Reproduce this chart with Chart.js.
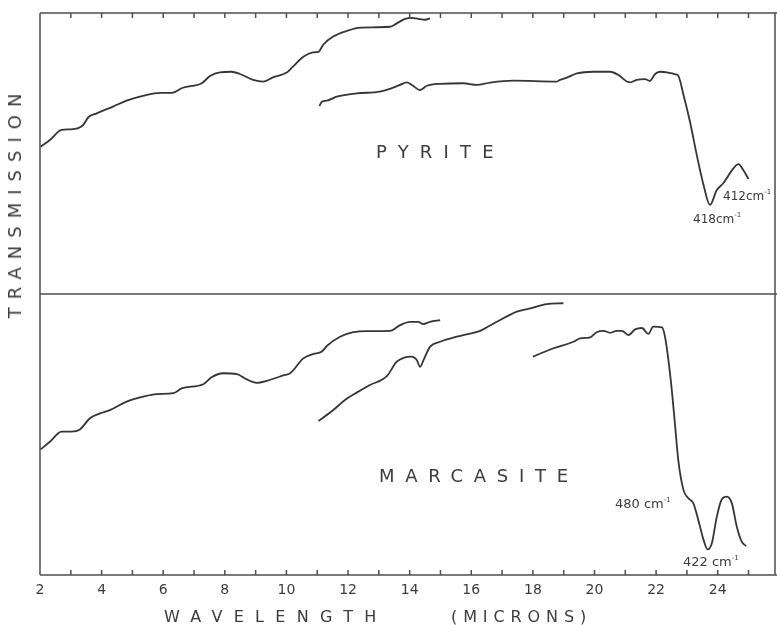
<!DOCTYPE html>
<html>
<head>
<meta charset="utf-8">
<script src="https://cdn.jsdelivr.net/npm/chart.js@4.4.1/dist/chart.umd.min.js"></script>
<style>
  body { margin: 0; background: #fff; }
  #wrap { position: relative; width: 777px; height: 625px; overflow: hidden; font-family: "DejaVu Sans", sans-serif; color: #3c3c3c; }
  .box { position: absolute; left: 0; width: 777px; }
  #topBox { top: 0; height: 300px; }
  #botBox { top: 294px; height: 331px; }
  .lbl { position: absolute; white-space: nowrap; line-height: 1; transform: translate(0, -50%); }
  .lbl sup { font-size: 7px; vertical-align: 6px; }
</style>
</head>
<body>
<div id="wrap">
  <div class="box" id="topBox"><canvas id="pyriteChart"></canvas></div>
  <div class="box" id="botBox"><canvas id="marcasiteChart"></canvas></div>

  <div class="lbl" style="left:15px;top:202px;font-size:18px;letter-spacing:8px;transform:translate(-50%,-50%) rotate(-90deg);">TRANSMISSION</div>
  <div class="lbl" style="left:164px;top:617px;font-size:16px;letter-spacing:11.3px;">WAVELENGTH</div>
  <div class="lbl" style="left:451px;top:617px;font-size:16px;letter-spacing:5.9px;">(MICRONS)</div>

  <div class="lbl" style="left:376px;top:152px;font-size:18px;letter-spacing:11.2px;">PYRITE</div>
  <div class="lbl" style="left:379px;top:476px;font-size:18px;letter-spacing:10.7px;">MARCASITE</div>

  <div class="lbl" style="left:723px;top:195px;font-size:12px;">412cm<sup>-1</sup></div>
  <div class="lbl" style="left:693px;top:218px;font-size:12px;">418cm<sup>-1</sup></div>
  <div class="lbl" style="left:615px;top:503px;font-size:13px;">480 cm<sup>-1</sup></div>
  <div class="lbl" style="left:683px;top:561px;font-size:13px;">422 cm<sup>-1</sup></div>
</div>

<script>
// wavelength axis (microns)
const xMin = 2;
const xMax = 25.86;
const tickLabels = [2, 4, 6, 8, 10, 12, 14, 16, 18, 20, 22, 24];
const minorTicks = [3, 4, 5, 6, 7, 8, 9, 10, 11, 12, 13, 14, 15, 16, 17, 18, 19, 20, 21, 22, 23, 24, 25];

// pyrite, short-wave trace and long-wave trace (transmission, arbitrary 0-100)
const pyriteShortX = [2.02, 2.32, 2.70, 2.97, 3.24, 3.40, 3.57, 3.84, 4.37, 4.81, 5.34, 5.90, 6.28, 6.64, 7.25, 7.52, 7.84, 8.22, 8.49, 8.92, 9.24, 9.56, 10.01, 10.21, 10.55, 10.87, 11.04, 11.20, 11.52, 11.96, 12.39, 13.36, 13.58, 13.85, 14.07, 14.28, 14.50, 14.66];
const pyriteShortY = [52.4, 54.8, 58.4, 58.6, 59.0, 60.1, 62.9, 64.3, 66.7, 68.8, 70.5, 71.6, 71.6, 73.4, 75.0, 77.6, 78.9, 79.1, 78.3, 76.2, 75.6, 77.1, 78.8, 80.9, 84.4, 86.0, 86.2, 88.8, 91.6, 93.6, 94.8, 95.1, 96.3, 97.9, 98.3, 97.9, 97.6, 98.1];
const pyriteLongX = [11.07, 11.15, 11.31, 11.63, 12.28, 13.04, 13.36, 13.69, 13.91, 14.07, 14.34, 14.56, 14.99, 15.74, 16.18, 16.61, 17.36, 18.78, 18.88, 19.10, 19.43, 19.96, 20.51, 20.78, 21.05, 21.16, 21.37, 21.64, 21.80, 21.96, 22.13, 22.35, 22.62, 22.72, 22.89, 23.10, 23.32, 23.54, 23.75, 23.97, 24.18, 24.51, 24.67, 24.83, 25.00];
const pyriteLongY = [66.9, 68.4, 68.8, 70.2, 71.4, 72.0, 73.0, 74.4, 75.3, 74.4, 72.6, 74.1, 74.8, 75.0, 74.4, 75.2, 75.9, 75.6, 76.2, 77.0, 78.5, 79.1, 79.1, 77.9, 75.6, 75.3, 76.2, 76.5, 75.8, 78.2, 79.1, 78.9, 78.2, 77.7, 70.8, 61.3, 49.5, 38.8, 31.7, 37.0, 39.4, 44.7, 46.2, 44.1, 40.9];

// marcasite, three overlapping traces
const marcShortX = [2.02, 2.32, 2.70, 3.03, 3.30, 3.62, 3.95, 4.27, 4.81, 5.35, 5.79, 6.33, 6.60, 7.30, 7.57, 7.95, 8.39, 8.71, 9.04, 9.36, 9.95, 10.12, 10.55, 10.87, 11.15, 11.31, 11.74, 12.17, 12.61, 13.36, 13.69, 14.01, 14.28, 14.44, 14.66, 14.99];
const marcShortY = [44.7, 47.4, 51.0, 51.0, 51.8, 55.8, 57.5, 58.7, 61.7, 63.5, 64.4, 64.7, 66.4, 67.9, 70.4, 71.8, 71.5, 69.6, 68.4, 69.1, 71.2, 71.8, 77.1, 78.6, 79.5, 81.5, 84.8, 86.4, 86.8, 86.9, 88.9, 90.1, 90.1, 89.3, 90.1, 90.7];
const marcMidX = [11.04, 11.52, 11.90, 12.28, 12.71, 13.26, 13.58, 13.80, 14.07, 14.23, 14.34, 14.45, 14.66, 14.99, 15.53, 16.07, 16.29, 16.83, 17.48, 17.91, 18.45, 18.99];
const marcMidY = [54.8, 58.7, 62.3, 64.9, 67.6, 70.8, 75.9, 77.3, 77.7, 76.5, 74.1, 76.5, 81.2, 83.0, 84.8, 86.2, 86.9, 90.1, 93.7, 94.9, 96.4, 96.7];
const marcLongX = [18.00, 18.67, 19.32, 19.53, 19.86, 20.07, 20.29, 20.51, 20.72, 20.89, 21.10, 21.32, 21.54, 21.75, 21.91, 22.19, 22.29, 22.40, 22.51, 22.62, 22.72, 22.89, 23.05, 23.21, 23.37, 23.54, 23.67, 23.81, 23.97, 24.13, 24.30, 24.46, 24.62, 24.78, 24.92];
const marcLongY = [77.7, 80.7, 83.0, 84.2, 84.6, 86.4, 86.9, 86.2, 86.9, 86.9, 85.4, 87.4, 87.9, 85.8, 88.4, 88.1, 84.8, 76.5, 65.8, 52.8, 40.9, 30.2, 27.3, 25.5, 19.6, 12.5, 9.1, 11.3, 20.7, 26.9, 27.9, 25.5, 17.2, 11.9, 10.3];

const inkColor = '#353535';
const frameColor = '#4f4f4f';

function trace(xs, ys) {
    return {
        data: xs.map((x, i) => ({ x: x, y: ys[i] })),
        borderColor: inkColor,
        borderWidth: 1.8,
        pointRadius: 0,
        fill: false,
        cubicInterpolationMode: 'monotone'
    };
}

// box around the plot plus short inward ticks at every micron
const framePlugin = {
    id: 'frame',
    afterDraw(chart, args, opts) {
        const { ctx, chartArea: a } = chart;
        const x = chart.scales.x;
        ctx.save();
        ctx.strokeStyle = frameColor;
        ctx.lineWidth = 1.5;
        ctx.beginPath();
        ctx.moveTo(a.left, a.top); ctx.lineTo(a.left, a.bottom);
        ctx.moveTo(a.right, a.top); ctx.lineTo(a.right, a.bottom);
        if (opts.side === 'top') {
            ctx.moveTo(a.left, a.top); ctx.lineTo(chart.width, a.top);
        }
        ctx.moveTo(a.left, a.bottom); ctx.lineTo(chart.width, a.bottom);
        minorTicks.forEach(v => {
            const px = x.getPixelForValue(v);
            if (opts.side === 'top') {
                ctx.moveTo(px, a.top); ctx.lineTo(px, a.top + 5);
            } else {
                ctx.moveTo(px, a.bottom); ctx.lineTo(px, a.bottom - 5);
            }
        });
        ctx.stroke();
        ctx.restore();
    }
};

const yScale = { type: 'linear', min: 0, max: 100, display: false };

const pyriteChart = new Chart(document.getElementById('pyriteChart'), {
    type: 'line',
    data: { datasets: [trace(pyriteShortX, pyriteShortY), trace(pyriteLongX, pyriteLongY)] },
    options: {
        responsive: true,
        maintainAspectRatio: false,
        animation: false,
        layout: { padding: { left: 40, top: 13, right: 2, bottom: 6 } },
        scales: {
            x: { type: 'linear', min: xMin, max: xMax, display: false },
            y: yScale
        },
        plugins: {
            legend: { display: false },
            tooltip: { enabled: false },
            frame: { side: 'top' }
        }
    },
    plugins: [framePlugin]
});

const marcasiteChart = new Chart(document.getElementById('marcasiteChart'), {
    type: 'line',
    data: { datasets: [trace(marcShortX, marcShortY), trace(marcMidX, marcMidY), trace(marcLongX, marcLongY)] },
    options: {
        responsive: true,
        maintainAspectRatio: false,
        animation: false,
        layout: { padding: { left: 40, top: 0, right: 2, bottom: 0 } },
        scales: {
            x: {
                type: 'linear',
                min: xMin,
                max: xMax,
                grid: { display: false, drawTicks: false },
                border: { display: false },
                ticks: { color: '#3c3c3c', font: { family: 'DejaVu Sans', size: 14 }, padding: 7, maxRotation: 0 },
                afterBuildTicks: scale => { scale.ticks = tickLabels.map(v => ({ value: v })); },
                afterFit: scale => { scale.height = 50; }
            },
            y: yScale
        },
        plugins: {
            legend: { display: false },
            tooltip: { enabled: false },
            frame: { side: 'bottom' }
        }
    },
    plugins: [framePlugin]
});
</script>
</body>
</html>
